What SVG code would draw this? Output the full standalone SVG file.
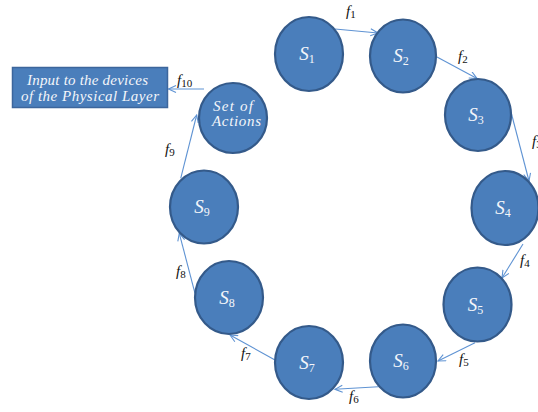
<svg xmlns="http://www.w3.org/2000/svg" width="538" height="412" viewBox="0 0 538 412">
<defs>
<marker id="arr" markerWidth="10" markerHeight="10" refX="8" refY="4" orient="auto" markerUnits="userSpaceOnUse">
<path d="M0.5,0.5 L8,4 L0.5,7.5" fill="none" stroke="#5f93d3" stroke-width="1.1"/>
</marker>
<style>
.node{fill:#4a7ebb;stroke:#345a8a;stroke-width:2.2}
.box{fill:#4a7ebb;stroke:#3c669c;stroke-width:1.5}
.lbl{font-family:"Liberation Serif","DejaVu Serif",serif;font-style:italic;fill:#f4f6fa;font-size:19px;text-anchor:middle}
.sub{font-size:12px;font-style:normal}
.wt{font-family:"Liberation Serif","DejaVu Serif",serif;font-style:italic;fill:#f4f6fa;font-size:15px}
.fl{font-family:"Liberation Serif","DejaVu Serif",serif;font-style:italic;fill:#111;font-size:15px}
.fs{font-size:11px;font-style:normal}
.con line{stroke:#5f93d3;stroke-width:1.1;fill:none;marker-end:url(#arr)}
</style>
</defs>
<rect width="538" height="412" fill="#fff"/>
<g id="connectors" class="con">
<line x1="335" y1="29" x2="378" y2="33"/>
<line x1="437" y1="57" x2="477" y2="78.5"/>
<line x1="511" y1="112" x2="529" y2="181"/>
<line x1="523" y1="244" x2="502" y2="278"/>
<line x1="475" y1="342.7" x2="438" y2="361"/>
<line x1="378.3" y1="386.7" x2="335" y2="389.3"/>
<line x1="275" y1="360" x2="230" y2="335"/>
<line x1="195" y1="293.3" x2="179.3" y2="233.3"/>
<line x1="180.7" y1="178.3" x2="196.7" y2="115"/>
<line x1="204" y1="89" x2="168.5" y2="89"/>
</g>
<g id="flabels">
<text class="fl" x="346" y="16">f<tspan class="fs" dy="2">1</tspan></text>
<text class="fl" x="458" y="61">f<tspan class="fs" dy="2">2</tspan></text>
<text class="fl" x="532" y="146">f<tspan class="fs" dy="2">3</tspan></text>
<text class="fl" x="520" y="265">f<tspan class="fs" dy="2">4</tspan></text>
<text class="fl" x="459" y="364">f<tspan class="fs" dy="2">5</tspan></text>
<text class="fl" x="349" y="401">f<tspan class="fs" dy="2">6</tspan></text>
<text class="fl" x="241" y="358">f<tspan class="fs" dy="2">7</tspan></text>
<text class="fl" x="176" y="276">f<tspan class="fs" dy="2">8</tspan></text>
<text class="fl" x="165" y="154">f<tspan class="fs" dy="2">9</tspan></text>
<text class="fl" x="177" y="85">f<tspan class="fs" dy="2">10</tspan></text>
</g>
<g id="input-box">
<rect class="box" x="12.5" y="67.5" width="155" height="40"/>
<text class="wt" x="27" y="85" textLength="121" lengthAdjust="spacing">Input to the devices</text>
<text class="wt" x="21" y="101" textLength="138" lengthAdjust="spacing">of the Physical  Layer</text>
</g>
<g id="set-of-actions">
<ellipse class="node" cx="233" cy="118" rx="34" ry="35"/>
<text class="wt" x="213" y="111" textLength="40" lengthAdjust="spacing">Set  of</text>
<text class="wt" x="212" y="126" textLength="49" lengthAdjust="spacing">Actions</text>
</g>
<g id="S1"><ellipse class="node" cx="309" cy="54" rx="34" ry="37"/><text class="lbl" x="307" y="60">S<tspan class="sub" dy="3">1</tspan></text></g>
<g id="S2"><ellipse class="node" cx="403" cy="56" rx="33" ry="36.5"/><text class="lbl" x="401" y="62">S<tspan class="sub" dy="3">2</tspan></text></g>
<g id="S3"><ellipse class="node" cx="478" cy="115" rx="33" ry="36"/><text class="lbl" x="476" y="121">S<tspan class="sub" dy="3">3</tspan></text></g>
<g id="S4"><ellipse class="node" cx="505" cy="208" rx="33.5" ry="37"/><text class="lbl" x="503" y="214">S<tspan class="sub" dy="3">4</tspan></text></g>
<g id="S5"><ellipse class="node" cx="477.5" cy="304.5" rx="34" ry="37"/><text class="lbl" x="475.5" y="310.5">S<tspan class="sub" dy="3">5</tspan></text></g>
<g id="S6"><ellipse class="node" cx="403" cy="361" rx="33" ry="36.5"/><text class="lbl" x="401" y="367">S<tspan class="sub" dy="3">6</tspan></text></g>
<g id="S7"><ellipse class="node" cx="309" cy="362.5" rx="34" ry="36.5"/><text class="lbl" x="307" y="368.5">S<tspan class="sub" dy="3">7</tspan></text></g>
<g id="S8"><ellipse class="node" cx="229" cy="297.5" rx="34" ry="36.5"/><text class="lbl" x="227" y="303.5">S<tspan class="sub" dy="3">8</tspan></text></g>
<g id="S9"><ellipse class="node" cx="204" cy="207" rx="34" ry="36.5"/><text class="lbl" x="202" y="213">S<tspan class="sub" dy="3">9</tspan></text></g>
</svg>
